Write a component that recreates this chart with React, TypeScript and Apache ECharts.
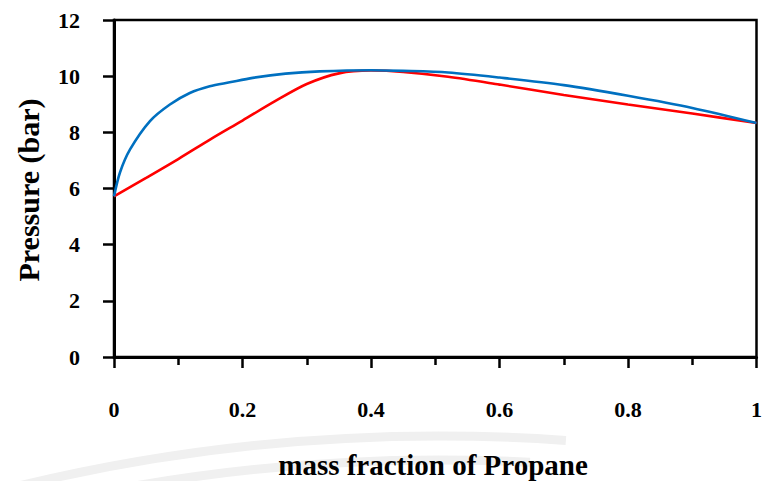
import React, { useEffect, useRef } from "react";
import * as echarts from "echarts";

const blueX = [0, 0.0093, 0.025, 0.056, 0.087, 0.118, 0.149, 0.18, 0.216, 0.267, 0.32, 0.4, 0.45, 0.52, 0.6, 0.7, 0.8, 0.9, 1.0];
const blueY = [5.72, 6.57, 7.39, 8.4, 8.99, 9.4, 9.64, 9.78, 9.94, 10.09, 10.17, 10.21, 10.19, 10.13, 9.95, 9.68, 9.3, 8.87, 8.33];

const redX = [0, 0.05, 0.1, 0.15, 0.2, 0.25, 0.3, 0.35, 0.4, 0.45, 0.52, 0.6, 0.7, 0.8, 0.9, 1.0];
const redY = [5.72, 6.38, 7.05, 7.75, 8.42, 9.1, 9.72, 10.1, 10.2, 10.15, 9.98, 9.7, 9.33, 8.99, 8.67, 8.33];

const xTitle = "mass fraction of Propane";
const yTitle = "Pressure (bar)";

const FONT = "'Liberation Serif', 'Times New Roman', serif";

export default function App() {
  const ref = useRef<HTMLDivElement>(null);
  useEffect(() => {
    if (!ref.current) return;
    const chart = echarts.init(ref.current, null, { renderer: "svg" });
    const pair = (xs: number[], ys: number[]) => xs.map((x, i) => [x, ys[i]]);
    const R = 1800;
    chart.setOption({
      animation: false,
      backgroundColor: "#ffffff",
      grid: {
        left: 114,
        right: 6,
        top: 20,
        bottom: 124,
        containLabel: false,
        show: true,
        borderColor: "#000",
        borderWidth: 2.5,
      },
      xAxis: {
        type: "value",
        min: 0,
        max: 1,
        interval: 0.2,
        axisLine: { show: true, lineStyle: { color: "#000", width: 3 } },
        axisTick: { show: true, inside: false, length: 11, lineStyle: { color: "#000", width: 2.5 } },
        minorTick: { show: true, splitNumber: 2, length: 8, lineStyle: { color: "#000", width: 2.5 } },
        splitLine: { show: false },
        axisLabel: { margin: 41, color: "#000", fontFamily: FONT, fontWeight: "bold", fontSize: 22 },
      },
      yAxis: {
        type: "value",
        min: 0,
        max: 12,
        interval: 2,
        axisLine: { show: true, lineStyle: { color: "#000", width: 3 } },
        axisTick: { show: true, inside: false, length: 11, lineStyle: { color: "#000", width: 2.5 } },
        splitLine: { show: false },
        axisLabel: { margin: 34, color: "#000", fontFamily: FONT, fontWeight: "bold", fontSize: 22 },
      },
      graphic: [
        {
          type: "arc",
          silent: true,
          z: -10,
          shape: { cx: 440, cy: 436 + R, r: R, startAngle: -Math.PI / 2 - 0.26, endAngle: -Math.PI / 2 + 0.07, clockwise: true },
          style: { stroke: "#f0f0f0", lineWidth: 9, fill: null },
        },
        {
          type: "arc",
          silent: true,
          z: -10,
          shape: { cx: 440, cy: 460 + R, r: R, startAngle: -Math.PI / 2 - 0.26, endAngle: -Math.PI / 2 + 0.05, clockwise: true },
          style: { stroke: "#f0f0f0", lineWidth: 9, fill: null },
        },
        {
          type: "text",
          x: 433,
          y: 465,
          style: {
            text: xTitle,
            font: `bold 29px ${FONT}`,
            fill: "#000",
            textAlign: "center",
            textVerticalAlign: "middle",
          },
        },
        {
          type: "text",
          x: 28,
          y: 190,
          rotation: Math.PI / 2,
          style: {
            text: yTitle,
            font: `bold 30px ${FONT}`,
            fill: "#000",
            textAlign: "center",
            textVerticalAlign: "middle",
          },
        },
      ],
      series: [
        {
          type: "line",
          data: pair(redX, redY),
          smooth: 0.3,
          showSymbol: false,
          lineStyle: { color: "#ff0000", width: 2.6 },
          z: 3,
        },
        {
          type: "line",
          data: pair(blueX, blueY),
          smooth: 0.3,
          showSymbol: false,
          lineStyle: { color: "#0070c0", width: 2.6 },
          z: 4,
        },
      ],
    });
    return () => chart.dispose();
  }, []);
  return (
    <div
      ref={ref}
      style={{ position: "fixed", left: 0, top: 0, width: 765, height: 481 }}
    />
  );
}
